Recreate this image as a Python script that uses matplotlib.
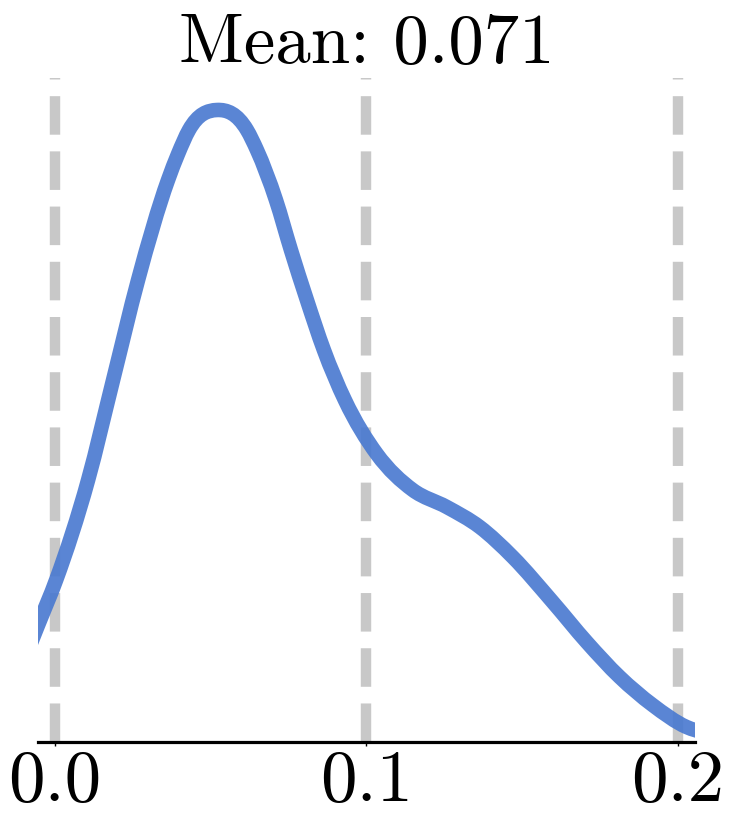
import matplotlib
matplotlib.use("Agg")
import matplotlib.pyplot as plt
from matplotlib.path import Path
from matplotlib.patches import PathPatch

# Density curve
x_vals = [-0.00792, -0.00536, 0.00042, 0.01068, 0.01870, 0.02672, 0.03634, 0.03955,
          0.04307, 0.05205, 0.06168, 0.06488, 0.07098, 0.07579,
          0.08092, 0.08637, 0.09311, 0.10337, 0.11491, 0.12582, 0.13640, 0.14699,
          0.15982, 0.17072, 0.18131, 0.19189, 0.20279, 0.20856]
y_vals = [1.534, 1.850, 2.562, 4.143, 5.724, 7.306, 8.887, 9.298,
          9.678, 9.994, 9.678, 9.361, 8.571, 7.780,
          6.989, 6.199, 5.408, 4.554, 3.985, 3.716, 3.400, 2.925,
          2.214, 1.581, 1.028, 0.585, 0.237, 0.142]
vlines = [0.0, 0.1, 0.2]
tick_vals = [0.0, 0.1, 0.2]
tick_labels = ["0.0", "0.1", "0.2"]
title_text = "Mean: 0.071"


def smooth_path(xs, ys):
    """Cubic Bezier path through the given points (Hermite tangents)."""
    n = len(xs)
    m = []
    for i in range(n):
        if i == 0:
            m.append((ys[1] - ys[0]) / (xs[1] - xs[0]))
        elif i == n - 1:
            m.append((ys[-1] - ys[-2]) / (xs[-1] - xs[-2]))
        else:
            h0 = xs[i] - xs[i - 1]
            h1 = xs[i + 1] - xs[i]
            d0 = (ys[i] - ys[i - 1]) / h0
            d1 = (ys[i + 1] - ys[i]) / h1
            m.append((h1 * d0 + h0 * d1) / (h0 + h1))
    verts = [(xs[0], ys[0])]
    codes = [Path.MOVETO]
    for i in range(n - 1):
        h = xs[i + 1] - xs[i]
        verts += [(xs[i] + h / 3, ys[i] + m[i] * h / 3),
                  (xs[i + 1] - h / 3, ys[i + 1] - m[i + 1] * h / 3),
                  (xs[i + 1], ys[i + 1])]
        codes += [Path.CURVE4] * 3
    return Path(verts, codes)


plt.rcParams['axes.unicode_minus'] = False
fig = plt.figure(figsize=(7.33, 8.30), dpi=100)
ax = fig.add_axes([38/733, 88/830, (695-38)/733, (742-78)/830])

for v in vlines:
    ax.axvline(v, color='#c8c8c8', lw=7.5, ls='--', zorder=1)

patch = PathPatch(smooth_path(x_vals, y_vals), facecolor='none',
                  edgecolor='#4878d0', alpha=0.9, lw=10.5,
                  joinstyle='round', capstyle='butt', zorder=3)
ax.add_patch(patch)

ax.set_xlim(-0.0054, 0.2055)
ax.set_ylim(0, 10.5)

for s in ['top', 'right', 'left']:
    ax.spines[s].set_visible(False)
ax.spines['bottom'].set_linewidth(2.3)
ax.spines['bottom'].set_zorder(4)
ax.set_yticks([])
ax.set_xticks(tick_vals)
ax.set_xticklabels(tick_labels, fontfamily='cmr10', fontsize=52.5)
ax.tick_params(axis='x', length=3, width=1, pad=3)
ax.set_title(title_text, fontfamily='cmr10', fontsize=51, pad=11)

fig.savefig('out.png', dpi=100)
